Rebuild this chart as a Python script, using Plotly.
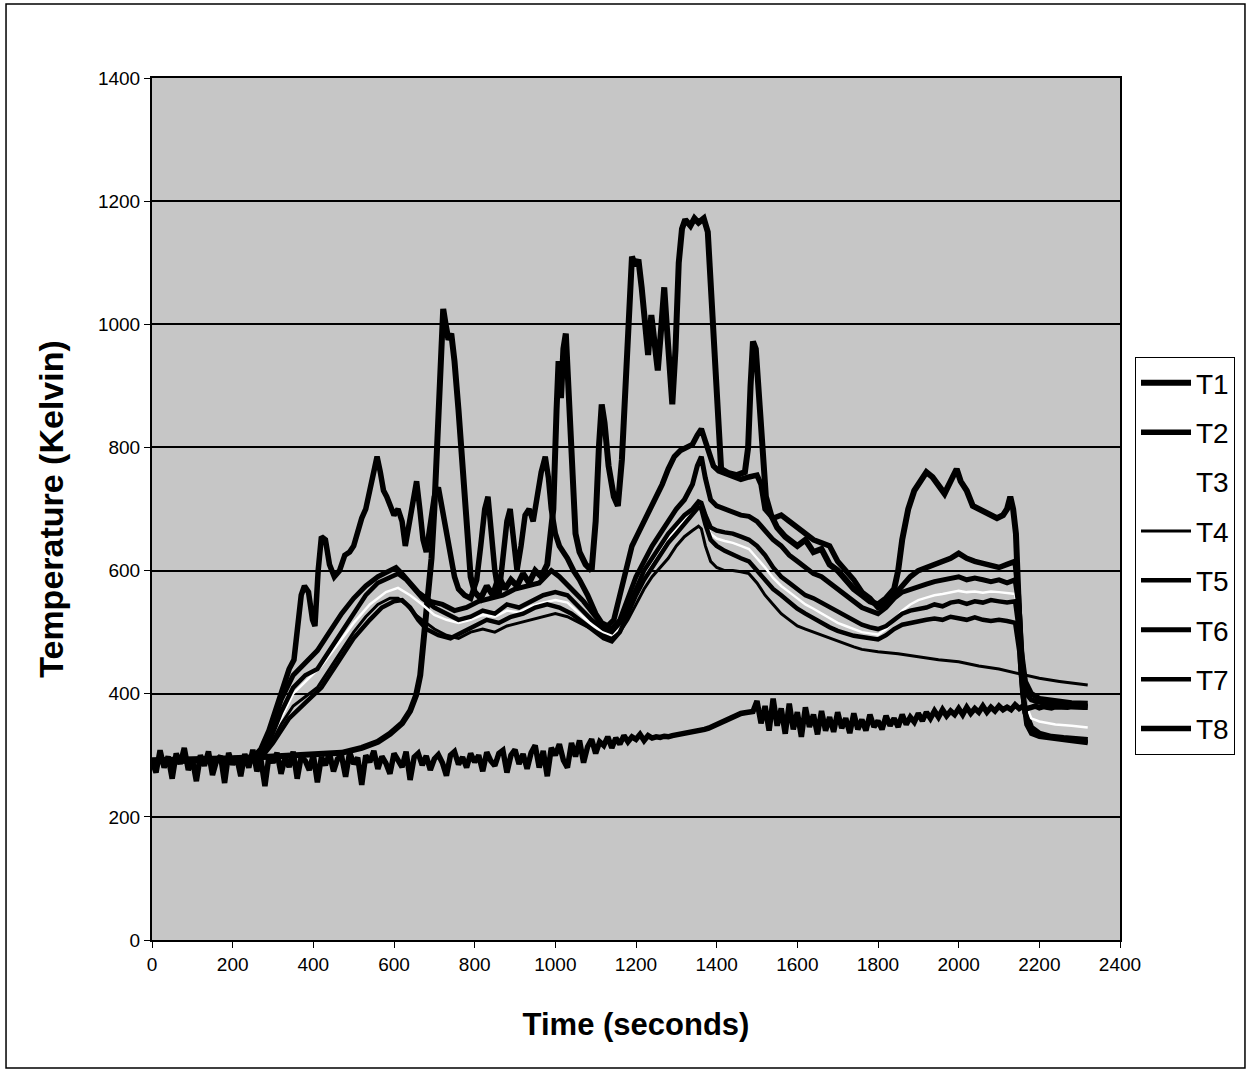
import plotly.graph_objects as go

# Thermocouple readings, temperature in Kelvin versus time in seconds.
t1_time = [0, 100, 200, 300, 400, 470, 520, 560, 590, 620, 640, 655, 665, 675, 685, 693, 700, 708, 715, 722, 728, 735, 742, 750, 760, 770, 780, 790, 800, 815, 830, 845, 860, 875, 890, 905, 920, 935, 950, 965, 980, 995, 1003, 1008, 1014, 1020, 1026, 1032, 1040, 1050, 1060, 1075, 1090, 1100, 1108, 1115, 1122, 1132, 1145, 1155, 1165, 1175, 1183, 1190, 1198, 1206, 1214, 1222, 1230, 1238, 1246, 1254, 1262, 1270, 1276, 1283, 1290, 1298, 1306, 1314, 1322, 1335, 1345, 1355, 1368, 1378, 1386, 1395, 1405, 1411, 1430, 1450, 1470, 1478, 1484, 1490, 1497, 1505, 1513, 1522, 1535, 1550, 1570, 1600, 1620, 1640, 1660, 1680, 1700, 1720, 1740, 1760, 1780, 1800, 1820, 1840, 1850, 1860, 1875, 1890, 1905, 1920, 1935, 1950, 1965, 1980, 1995, 2005, 2020, 2035, 2050, 2065, 2080, 2095, 2110, 2120, 2128, 2135, 2142, 2148, 2155, 2165, 2180, 2200, 2230, 2260, 2290, 2320]
t1_temp = [292, 293, 295, 298, 301, 304, 312, 322, 335, 352, 372, 398, 430, 490, 560, 620, 700, 820, 930, 1025, 1000, 975, 985, 940, 860, 760, 660, 590, 565, 555, 575, 560, 590, 570, 585, 575, 595, 580, 600, 590, 610, 700, 860, 940, 880, 960, 985, 900, 760, 660, 630, 610, 600, 680, 800, 870, 840, 770, 720, 705, 780, 920, 1050, 1110, 1095, 1105, 1060, 1000, 950, 1015, 960, 925, 990, 1060, 1000, 930, 870, 960, 1100, 1155, 1170, 1160, 1172, 1165, 1172, 1150, 1050, 920, 800, 765, 758, 755, 760, 800, 900, 972, 960, 880, 780, 720, 690, 670, 655, 640, 650, 630, 635, 610, 600, 585, 570, 560, 550, 545, 555, 570, 600, 650, 700, 730, 745, 760, 752, 740, 725, 745, 765, 745, 730, 705, 700, 695, 690, 685, 690, 700, 720, 700, 660, 560, 440, 370, 345, 335, 330, 328, 326, 325]

t2_time = [0, 100, 200, 250, 270, 290, 310, 325, 340, 352, 362, 370, 378, 388, 398, 404, 412, 420, 430, 440, 452, 465, 478, 490, 500, 510, 520, 530, 540, 550, 558, 566, 574, 582, 592, 600, 610, 620, 628, 636, 646, 656, 664, 672, 680, 690, 700, 710, 720, 730, 740, 750, 760, 775, 790, 805, 815, 825, 833, 842, 850, 860, 870, 880, 888, 896, 905, 915, 925, 935, 945, 955, 965, 975, 983, 990, 1000, 1010, 1020, 1030, 1045, 1060, 1080, 1100, 1115, 1130, 1145, 1160, 1175, 1190, 1205, 1220, 1235, 1250, 1265, 1280, 1295, 1310, 1325, 1340, 1352, 1362, 1372, 1382, 1392, 1405, 1420, 1440, 1460, 1480, 1500, 1510, 1520, 1540, 1560, 1580, 1600, 1620, 1640, 1660, 1680, 1700, 1720, 1740, 1760, 1780, 1800, 1820, 1840, 1860, 1880, 1900, 1920, 1940, 1960, 1980, 2000, 2020, 2040, 2060, 2080, 2100, 2120, 2140, 2148, 2155, 2165, 2180, 2200, 2240, 2280, 2320]
t2_temp = [290, 291, 292, 296, 310, 340, 380, 410, 440, 455, 520, 560, 575, 565, 520, 510, 600, 655, 650, 610, 590, 600, 625, 630, 640, 665, 685, 700, 730, 760, 785, 760, 730, 720, 700, 690, 700, 680, 640, 670, 720, 745, 700, 650, 630, 680, 720, 735, 700, 660, 620, 590, 570, 560, 555, 585, 640, 700, 720, 660, 600, 560, 620, 680, 700, 650, 600, 640, 690, 700, 680, 720, 760, 785, 750, 700, 660, 640, 630, 620, 600, 585, 560, 530, 515, 510, 520, 560, 600, 640, 660, 680, 700, 715, 740, 765, 785, 795, 800, 805, 820, 830, 810, 790, 770, 762, 758, 752, 748, 752, 755, 740, 700, 685, 690, 680, 670, 660, 650, 645, 640, 615, 600, 585, 565, 555, 540, 545, 560, 575, 590, 600, 605, 612, 615, 620, 628, 620, 615, 612, 608, 605, 610, 615, 560, 470, 420, 400, 392, 388, 385, 384]

t3_time = [0, 260, 290, 320, 350, 380, 420, 460, 500, 540, 580, 610, 640, 670, 700, 730, 760, 790, 820, 850, 880, 910, 940, 970, 1000, 1030, 1060, 1090, 1120, 1140, 1160, 1180, 1200, 1220, 1240, 1260, 1280, 1300, 1320, 1340, 1355, 1362, 1372, 1385, 1400, 1420, 1440, 1460, 1480, 1500, 1520, 1540, 1560, 1580, 1600, 1620, 1640, 1660, 1680, 1700, 1720, 1740, 1760, 1780, 1800, 1820, 1840, 1860, 1880, 1900, 1920, 1940, 1960, 1980, 2000, 2020, 2040, 2060, 2080, 2100, 2120, 2140, 2150, 2158, 2168, 2180, 2200, 2240, 2280, 2320]
t3_temp = [290, 294, 315, 360, 400, 420, 445, 480, 515, 545, 565, 572, 560, 545, 528, 520, 515, 520, 528, 525, 535, 532, 542, 548, 552, 548, 530, 512, 500, 495, 508, 535, 565, 592, 612, 632, 652, 668, 682, 695, 705, 702, 680, 660, 652, 648, 645, 640, 635, 620, 605, 588, 575, 565, 555, 545, 538, 530, 522, 515, 510, 505, 500, 498, 496, 505, 520, 535, 545, 552, 556, 560, 562, 565, 567, 565, 566, 564, 566, 565, 563, 562, 520, 440, 380, 360, 355, 350, 348, 345]

t4_time = [0, 250, 280, 300, 320, 350, 380, 410, 440, 470, 500, 530, 560, 590, 610, 630, 650, 670, 700, 730, 760, 790, 820, 850, 880, 910, 940, 970, 1000, 1030, 1060, 1090, 1120, 1140, 1160, 1180, 1200, 1220, 1240, 1260, 1280, 1300, 1320, 1340, 1355, 1362, 1372, 1385, 1400, 1420, 1440, 1460, 1480, 1500, 1520, 1540, 1560, 1580, 1600, 1620, 1640, 1660, 1680, 1700, 1720, 1740, 1760, 1780, 1800, 1850, 1900, 1950, 2000, 2050, 2100, 2150, 2200, 2250, 2300, 2320]
t4_temp = [288, 292, 305, 325, 350, 380, 395, 410, 440, 470, 500, 525, 545, 555, 555, 545, 530, 520, 505, 495, 490, 500, 505, 500, 510, 515, 520, 525, 530, 525, 515, 505, 495, 490, 500, 520, 545, 570, 590, 605, 620, 640, 655, 665, 672, 668, 640, 615, 605, 600, 600, 598, 595, 580, 560, 545, 530, 520, 510, 505, 500, 495, 490, 485, 480, 476, 472, 470, 468, 465, 460, 455, 452, 445, 440, 432, 425, 420, 416, 414]

t5_time = [0, 260, 290, 320, 350, 380, 410, 440, 470, 500, 530, 560, 590, 610, 630, 650, 670, 700, 730, 760, 790, 820, 850, 880, 910, 940, 970, 1000, 1030, 1060, 1090, 1120, 1140, 1160, 1180, 1200, 1220, 1240, 1260, 1280, 1300, 1320, 1340, 1355, 1362, 1372, 1385, 1400, 1420, 1440, 1460, 1480, 1500, 1520, 1540, 1560, 1580, 1600, 1620, 1640, 1660, 1680, 1700, 1720, 1740, 1760, 1780, 1800, 1820, 1840, 1860, 1880, 1900, 1920, 1940, 1960, 1980, 2000, 2020, 2040, 2060, 2080, 2100, 2120, 2140, 2150, 2158, 2168, 2180, 2200, 2240, 2280, 2320]
t5_temp = [290, 295, 320, 370, 410, 430, 440, 470, 500, 530, 560, 580, 590, 595, 585, 570, 555, 540, 530, 520, 525, 535, 530, 545, 540, 550, 560, 565, 560, 540, 520, 505, 500, 515, 540, 570, 600, 620, 640, 660, 675, 690, 700, 712, 710, 690, 670, 665, 662, 660, 655, 650, 640, 625, 605, 590, 580, 570, 560, 555, 548, 540, 532, 525, 518, 512, 508, 505, 510, 520, 530, 535, 538, 540, 545, 542, 548, 550, 546, 550, 548, 552, 550, 548, 550, 500, 420, 360, 340, 332, 328, 325, 322]

t6_time = [0, 260, 290, 320, 350, 380, 410, 440, 470, 500, 530, 560, 590, 605, 620, 640, 660, 690, 720, 750, 780, 810, 840, 870, 900, 930, 960, 990, 1010, 1040, 1070, 1100, 1120, 1140, 1160, 1180, 1200, 1220, 1240, 1260, 1280, 1300, 1320, 1340, 1352, 1362, 1372, 1385, 1400, 1420, 1440, 1460, 1480, 1500, 1520, 1540, 1560, 1580, 1600, 1620, 1640, 1660, 1680, 1700, 1720, 1740, 1760, 1780, 1800, 1820, 1840, 1860, 1880, 1900, 1920, 1940, 1960, 1980, 2000, 2020, 2040, 2060, 2080, 2100, 2120, 2140, 2150, 2158, 2168, 2180, 2200, 2240, 2280, 2320]
t6_temp = [291, 296, 330, 390, 430, 450, 470, 500, 530, 555, 575, 590, 600, 605, 595, 580, 565, 550, 545, 535, 540, 550, 555, 560, 570, 575, 580, 600, 590, 570, 550, 525, 510, 505, 520, 555, 590, 615, 640, 660, 680, 700, 715, 740, 770, 785, 750, 715, 705, 700, 695, 690, 688, 680, 665, 650, 640, 625, 615, 605, 595, 590, 580, 570, 560, 550, 540, 535, 530, 540, 555, 565, 570, 575, 578, 582, 585, 588, 590, 585, 588, 585, 582, 585, 580, 585, 540, 450, 400, 390, 386, 383, 382, 380]

t7_time = [0, 270, 300, 340, 380, 420, 460, 500, 540, 570, 600, 620, 640, 660, 680, 710, 740, 770, 800, 830, 860, 890, 920, 950, 980, 1010, 1040, 1070, 1100, 1120, 1140, 1160, 1180, 1200, 1220, 1240, 1260, 1280, 1300, 1320, 1340, 1355, 1362, 1372, 1385, 1400, 1420, 1440, 1460, 1480, 1500, 1520, 1540, 1560, 1580, 1600, 1620, 1640, 1660, 1680, 1700, 1720, 1740, 1760, 1780, 1800, 1820, 1840, 1860, 1880, 1900, 1920, 1940, 1960, 1980, 2000, 2020, 2040, 2060, 2080, 2100, 2120, 2140, 2150, 2158, 2168, 2180, 2200, 2240, 2280, 2320]
t7_temp = [289, 295, 320, 360, 385, 410, 450, 490, 520, 540, 550, 552, 540, 520, 505, 495, 490, 500, 510, 520, 515, 525, 530, 540, 545, 540, 530, 515, 500, 490, 485, 500, 530, 560, 585, 605, 625, 645, 660, 675, 690, 703, 700, 675, 650, 640, 632, 625, 620, 615, 600, 585, 570, 560, 548, 538, 530, 522, 515, 508, 502, 498, 494, 492, 490, 488, 495, 505, 512, 515, 518, 520, 522, 520, 525, 523, 520, 524, 520, 518, 520, 518, 515, 470, 400, 350, 335, 330, 326, 323, 320]

# T8 is logged every 10 s over the whole run
t8_time = list(range(0, 2321, 10))
t8_temp = [
    # 0 - 990 s
    290, 272, 308, 280, 298, 262, 303, 286, 312, 276,
    294, 258, 300, 283, 306, 268, 291, 299, 255, 304,
    285, 297, 266, 302, 280, 309, 274, 293, 250, 299,
    288, 304, 270, 296, 281, 306, 262, 298, 291, 276,
    301, 256, 297, 284, 303, 274, 294, 299, 265, 305,
    286, 296, 252, 300, 289, 307, 278, 298, 287, 270,
    303, 290, 281, 306, 260, 297, 303, 284, 299, 276,
    294, 301, 288, 267, 300, 306, 285, 297, 280, 303,
    289, 300, 274, 305, 291, 283, 303, 308, 272, 300,
    309, 286, 302, 278, 304, 316, 280, 307, 266, 312,
    # 1000 - 1490 s
    300, 318, 292, 280, 320, 298, 324, 288, 314, 326,
    303, 322, 316, 330, 312, 328, 318, 332, 322, 330,
    326, 334, 324, 332, 328, 330, 329, 331, 330, 332,
    333, 334, 336, 337, 338, 339, 340, 342, 344, 347,
    350, 354, 358, 361, 364, 366, 368, 369, 370, 371,
    # 1500 - 1990 s
    388, 352, 380, 340, 392, 348, 376, 335, 384, 342,
    370, 330, 378, 346, 366, 334, 372, 340, 362, 338,
    370, 344, 360, 336, 368, 342, 358, 340, 366, 346,
    356, 342, 364, 348, 360, 346, 366, 350, 362, 354,
    368, 356, 370, 360, 372, 362, 374, 364, 372, 366,
    # 2000 - 2320 s
    376, 366, 378, 368, 376, 370, 380, 370, 378, 372,
    380, 374, 378, 374, 382, 376, 380, 376, 378, 380,
    377, 379, 378, 377, 379, 378, 377, 378, 379, 378,
    377, 378, 378,
]

series_names = ["T1", "T2", "T3", "T4", "T5", "T6", "T7", "T8"]
series_time = [t1_time, t2_time, t3_time, t4_time, t5_time, t6_time, t7_time, t8_time]
series_temp = [t1_temp, t2_temp, t3_temp, t4_temp, t5_temp, t6_temp, t7_temp, t8_temp]
series_color = ["black", "black", "white", "black", "black", "black", "black", "black"]
series_width = [6, 5.5, 2.5, 3, 4.5, 5, 4.5, 5.5]

x_ticks = list(range(0, 2401, 200))
y_ticks = list(range(0, 1401, 200))

fig = go.Figure()
for name, xs, ys, col, w in zip(series_names, series_time, series_temp, series_color, series_width):
    fig.add_trace(go.Scatter(
        x=xs, y=ys, mode="lines", name=name, legendgroup=name,
        line=dict(color=col, width=w),
    ))

font_family = "Liberation Sans, Arial, sans-serif"
axis_font = dict(family=font_family, size=19, color="black")

fig.update_layout(
    width=1249, height=1072,
    margin=dict(l=152, r=129, t=78, b=132),
    paper_bgcolor="white",
    plot_bgcolor="#c6c6c6",
    showlegend=True,
    legend=dict(
        x=1.0155, y=0.6763, xanchor="left", yanchor="top",
        bgcolor="white", bordercolor="black", borderwidth=1,
        font=dict(family=font_family, size=28, color="black"),
        traceorder="grouped", tracegroupgap=10, itemwidth=50,
    ),
    xaxis=dict(
        range=[0, 2400], tickvals=x_ticks, ticktext=[str(v) for v in x_ticks],
        showgrid=False, zeroline=False,
        showline=True, linecolor="black", linewidth=2, mirror=True,
        ticks="outside", ticklen=6, tickcolor="black", tickwidth=1,
        tickfont=axis_font,
        title=dict(text="<b>Time (seconds)</b>", font=dict(family=font_family, size=31, color="black"), standoff=40),
    ),
    yaxis=dict(
        range=[0, 1400], tickvals=y_ticks, ticktext=[str(v) for v in y_ticks],
        showgrid=True, gridcolor="black", gridwidth=2, zeroline=False,
        showline=True, linecolor="black", linewidth=2, mirror=True,
        ticks="outside", ticklen=6, tickcolor="black", tickwidth=1,
        tickfont=axis_font,
        title=dict(text="<b>Temperature (Kelvin)</b>", font=dict(family=font_family, size=34, color="black"), standoff=24),
    ),
    shapes=[dict(
        type="rect", xref="paper", yref="paper",
        x0=-0.1508, x1=1.1291, y0=-0.1485, y1=1.0858,
        line=dict(color="black", width=1.5), fillcolor="rgba(0,0,0,0)",
        layer="below",
    )],
)

fig.write_html("out.html")
